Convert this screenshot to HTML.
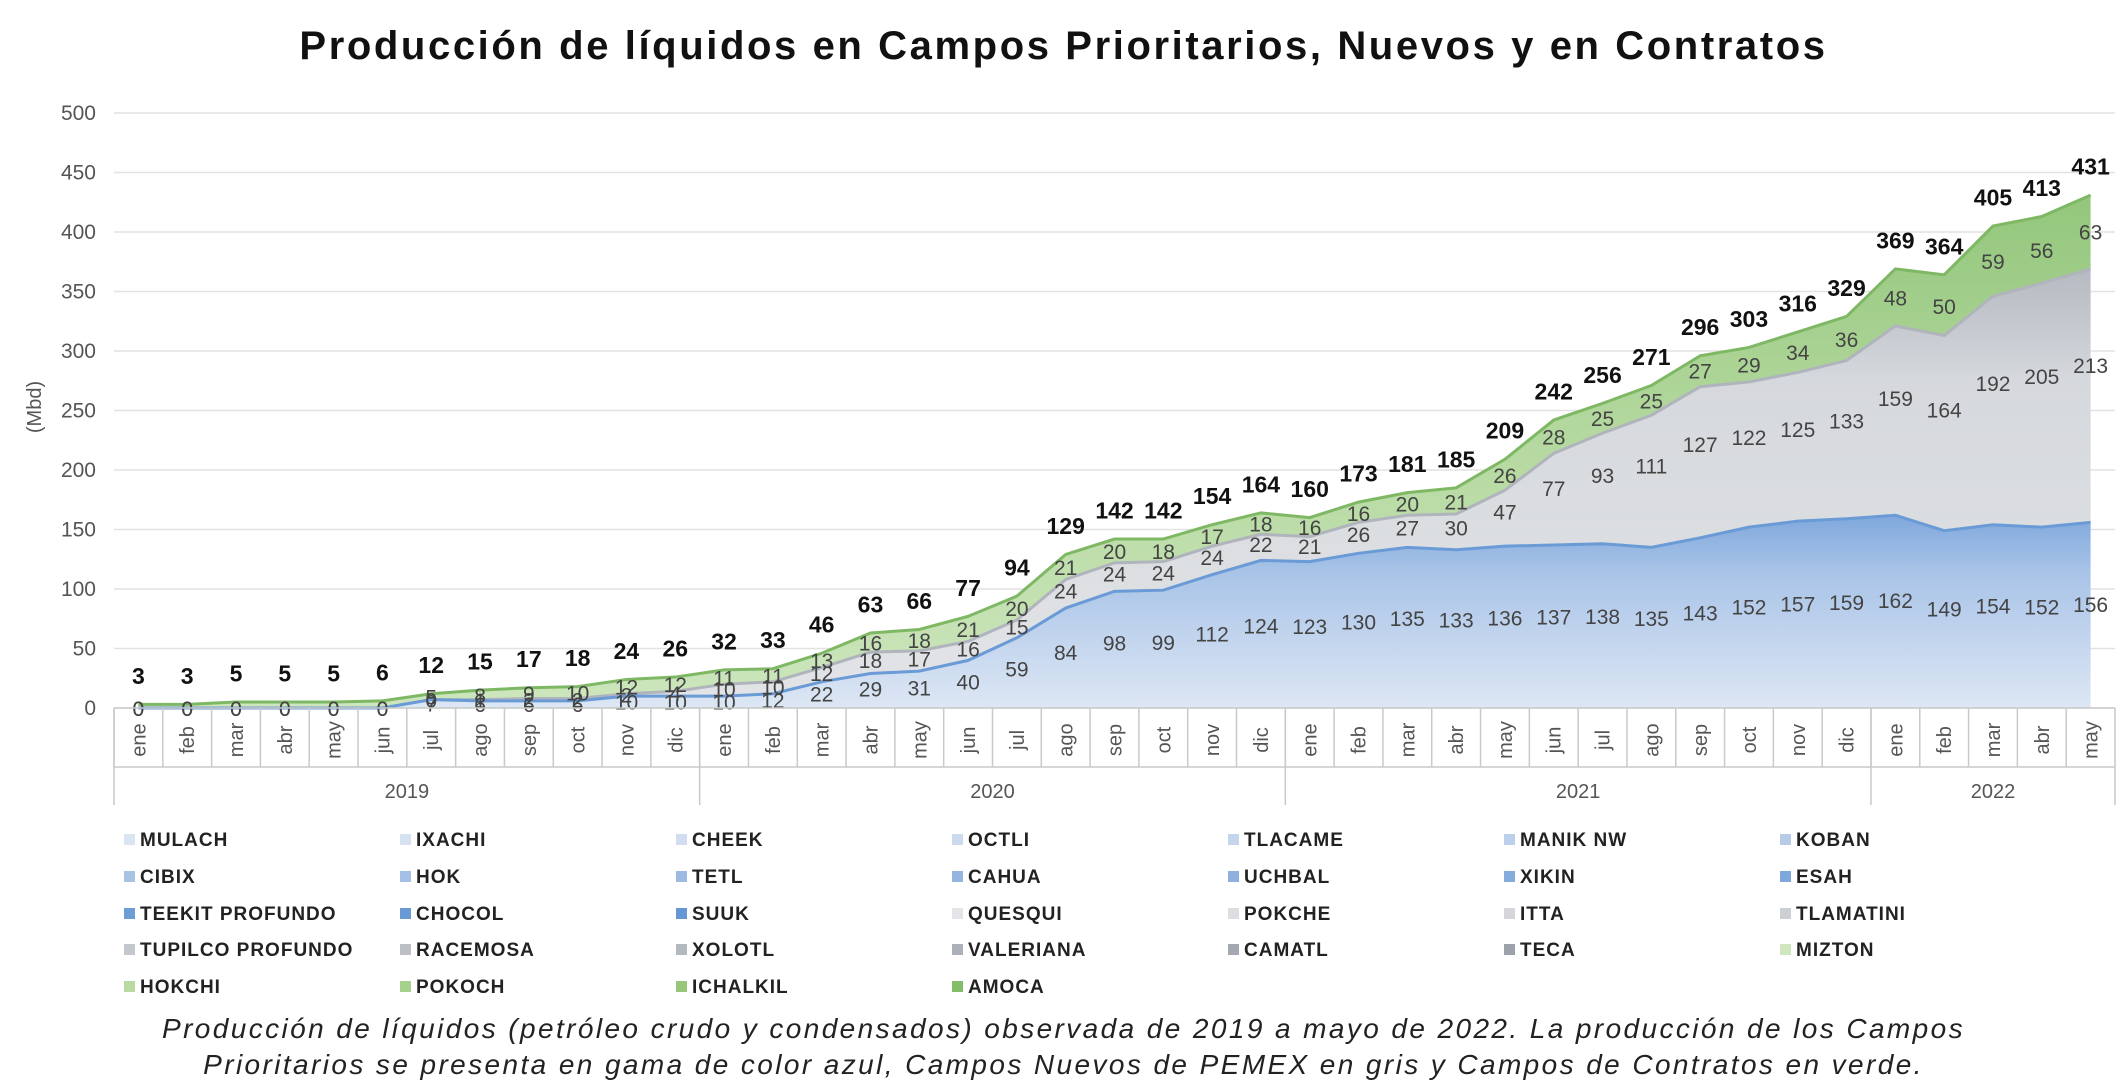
<!DOCTYPE html>
<html><head><meta charset="utf-8">
<style>
html,body{margin:0;padding:0;background:#fff;}
body{width:2127px;height:1080px;overflow:hidden;position:relative;font-family:"Liberation Sans",sans-serif;}
#title{position:absolute;left:0;width:2127px;top:24px;text-align:center;font-weight:bold;font-size:40px;letter-spacing:2.6px;color:#111;}
.leg{position:absolute;font-weight:bold;font-size:19px;letter-spacing:1px;color:#222;white-space:nowrap;}
.leg span{display:inline-block;width:11px;height:11px;margin-right:5px;vertical-align:1px;}
.cap{position:absolute;left:0;width:2127px;text-align:center;font-style:italic;font-size:28px;letter-spacing:2.4px;color:#222;}
</style></head>
<body>
<div id="title">Producción de líquidos en Campos Prioritarios, Nuevos y en Contratos</div>
<svg id="chart" width="2127" height="820" style="position:absolute;left:0;top:0">
<defs>
<linearGradient id="gBlue" x1="0" y1="0" x2="0" y2="1"><stop offset="0" stop-color="#7fa8dc"/><stop offset="0.3" stop-color="#a9c4e8"/><stop offset="1" stop-color="#dde7f4"/></linearGradient>
<linearGradient id="gGray" x1="0" y1="0" x2="0" y2="1"><stop offset="0" stop-color="#b5b9c1"/><stop offset="0.25" stop-color="#d5d8dc"/><stop offset="1" stop-color="#e2e4e7"/></linearGradient>
<linearGradient id="gGreen" x1="0" y1="0" x2="0" y2="1"><stop offset="0" stop-color="#93c67b"/><stop offset="0.45" stop-color="#b3d89e"/><stop offset="1" stop-color="#cde6bd"/></linearGradient>
</defs>
</svg>
<div id="legend"></div>
<div class="cap" style="top:1013px">Producción de líquidos (petróleo crudo y condensados) observada de 2019 a mayo de 2022. La producción de los Campos</div>
<div class="cap" style="top:1049px">Prioritarios se presenta en gama de color azul, Campos Nuevos de PEMEX en gris y Campos de Contratos en verde.</div>
<script>
const months=["ene","feb","mar","abr","may","jun","jul","ago","sep","oct","nov","dic","ene","feb","mar","abr","may","jun","jul","ago","sep","oct","nov","dic","ene","feb","mar","abr","may","jun","jul","ago","sep","oct","nov","dic","ene","feb","mar","abr","may"];
const years=["2019","2020","2021","2022"];
const yearCounts=[12,12,12,5];
const blue=[0,0,0,0,0,0,7,6,6,6,10,10,10,12,22,29,31,40,59,84,98,99,112,124,123,130,135,133,136,137,138,135,143,152,157,159,162,149,154,152,156];
const gray=[0,0,0,0,0,0,0,1,2,2,2,4,10,10,12,18,17,16,15,24,24,24,24,22,21,26,27,30,47,77,93,111,127,122,125,133,159,164,192,205,213];
const green=[0,0,0,0,0,0,5,8,9,10,12,12,11,11,13,16,18,21,20,21,20,18,17,18,16,16,20,21,26,28,25,25,27,29,34,36,48,50,59,56,63];
const totals=[3,3,5,5,5,6,12,15,17,18,24,26,32,33,46,63,66,77,94,129,142,142,154,164,160,173,181,185,209,242,256,271,296,303,316,329,369,364,405,413,431];
const yTicks=[0,50,100,150,200,250,300,350,400,450,500];

const NS="http://www.w3.org/2000/svg";
const svg=document.getElementById('chart');
const L=114,R=2115,Y0=708,Y1=113,YMAX=500;
const bw=(R-L)/months.length;
const x=i=>L+bw*(i+0.5);
const y=v=>Y0-(Y0-Y1)*v/YMAX;
function mk(t,a){const e=document.createElementNS(NS,t);for(const k in a)e.setAttribute(k,a[k]);svg.appendChild(e);return e;}

yTicks.forEach(t=>{
  const g=mk('line',{x1:L,x2:R,y1:y(t),y2:y(t),stroke:'#e2e2e2','stroke-width':1.5});
  
  
  const tx=mk('text',{x:96,y:y(t)+7,'text-anchor':'end','font-size':21,fill:'#555'});
  tx.textContent=t;
  
  
});
const yt=mk('text',{x:0,y:0,transform:'translate(41,407) rotate(-90)','text-anchor':'middle','font-size':20,fill:'#555'});
yt.textContent='(Mbd)';



const base=months.map(()=>0);
const bTop=blue.map((v,i)=>v);
const gTop=gray.map((v,i)=>blue[i]+v);
function area(top,bot,fill,stroke,name){
  let d='M'+x(0)+','+y(top[0]);
  for(let i=1;i<top.length;i++)d+=' L'+x(i)+','+y(top[i]);
  for(let i=bot.length-1;i>=0;i--)d+=' L'+x(i)+','+y(bot[i]);
  d+='Z';
  const p=mk('path',{d:d,fill:fill});
  
  
  let ld='M'+x(0)+','+y(top[0]);
  for(let i=1;i<top.length;i++)ld+=' L'+x(i)+','+y(top[i]);
  mk('path',{d:ld,fill:'none',stroke:stroke,'stroke-width':3});
}
area(totals,gTop,'url(#gGreen)','#7fb864','area-contratos');
area(gTop,bTop,'url(#gGray)','#b0b4bc','area-campos-nuevos');
area(bTop,base,'url(#gBlue)','#6a9bd6','area-prioritarios');

function lab(xx,v,txt,bold,name){
  const t=mk('text',{x:xx,y:y(v)+8,'text-anchor':'middle','font-size':bold?23:21,'font-weight':bold?'bold':'normal',fill:bold?'#111':'#444'});
  t.textContent=txt;
  
  
}
months.forEach((m,i)=>{
  lab(x(i),blue[i]*0.56,blue[i],false,'label-prioritarios');
  if(i>=6)lab(x(i),blue[i]+gray[i]*0.62,gray[i],false,'label-nuevos');
  else lab(x(i),0,gray[i],false,'label-nuevos');
  if(i>=6)lab(x(i),gTop[i]+green[i]*0.5,green[i],false,'label-contratos');
  lab(x(i),totals[i]+24,totals[i],true,'label-total');
  mk('line',{x1:L+bw*i,x2:L+bw*i,y1:Y0,y2:767,stroke:'#c9c9c9','stroke-width':1.5});
  const mt=mk('text',{x:0,y:0,transform:'translate('+(x(i)+7)+',740) rotate(-90)','text-anchor':'middle','font-size':20,fill:'#555'});
  mt.textContent=m;
  
  
});
mk('line',{x1:L,x2:R,y1:Y0,y2:Y0,stroke:'#c9c9c9','stroke-width':1.5});
mk('line',{x1:L,x2:R,y1:767,y2:767,stroke:'#c9c9c9','stroke-width':1.5});
let acc=0;
mk('line',{x1:L,x2:L,y1:Y0,y2:805,stroke:'#c9c9c9','stroke-width':1.5});
years.forEach((yr,k)=>{
  const s=L+bw*acc; acc+=yearCounts[k]; const e=L+bw*acc;
  mk('line',{x1:e,x2:e,y1:Y0,y2:805,stroke:'#c9c9c9','stroke-width':1.5});
  const t=mk('text',{x:(s+e)/2,y:798,'text-anchor':'middle','font-size':20,fill:'#555'});
  t.textContent=yr;
  
  
});

const legNames=["MULACH","IXACHI","CHEEK","OCTLI","TLACAME","MANIK NW","KOBAN","CIBIX","HOK","TETL","CAHUA","UCHBAL","XIKIN","ESAH","TEEKIT PROFUNDO","CHOCOL","SUUK","QUESQUI","POKCHE","ITTA","TLAMATINI","TUPILCO PROFUNDO","RACEMOSA","XOLOTL","VALERIANA","CAMATL","TECA","MIZTON","HOKCHI","POKOCH","ICHALKIL","AMOCA"];
const legColors=["#dbe5f1","#d6e2f0","#d2def0","#ccdaee","#c4d5ec","#bdd0ea","#b6cbe8","#a9c3e4","#a4c0e4","#9cbae2","#94b5e0","#8db0de","#86acdc","#7ea7da","#6e9dd6","#6a9ad5","#6497d4","#e4e5e8","#dcdee2","#d4d6db","#cccfd4","#c4c7cd","#bcc0c6","#b4b8bf","#acb0b8","#a4a9b1","#9ca1aa","#cfe6bf","#b9dba3","#a6d18c","#94c77a","#82bd68"];
const colX=[124,400,676,952,1228,1504,1780];
const rowY=[830,867,904,940,977];
const leg=document.getElementById('legend');
legNames.forEach((n,i)=>{
  const d=document.createElement('div');
  d.className='leg';
  d.style.left=colX[i%7]+'px';
  d.style.top=rowY[Math.floor(i/7)]+'px';
  d.innerHTML='<span style="background:'+legColors[i]+'"></span>'+n;
  
  
  leg.appendChild(d);
});
</script>
</body></html>
